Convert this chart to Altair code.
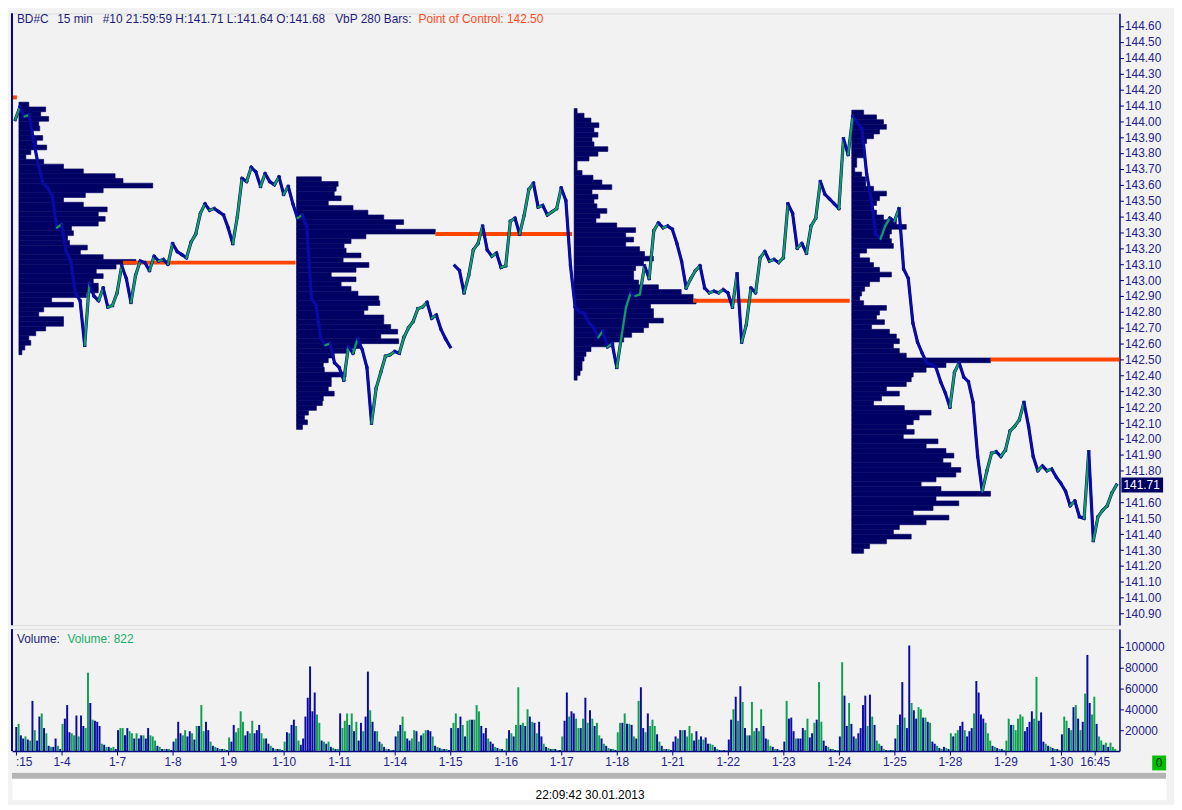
import json
import altair as alt
import pandas as pd

# ---------------- data ----------------
DAY_LABELS = ["1-3", "1-4", "1-7", "1-8", "1-9", "1-10", "1-11", "1-14", "1-15", "1-16",
              "1-17", "1-18", "1-21", "1-22", "1-23", "1-24", "1-25", "1-28", "1-29", "1-30"]

# closing prices every 2 hours (1/12 trading day), first bar at 1-3 04:00
PRICE_START = 2 / 12
PRICE_STEP = 1 / 12
PRICE = [
    144.01, 144.09, 144.03, 144.04, 143.87, 143.72, 143.61, 143.58, 143.53, 143.33,
    143.35, 143.18, 143.12, 142.92, 142.87, 142.59, 142.98, 142.90, 142.87, 142.95,
    142.83, 142.84, 142.92, 143.09, 143.01, 142.86, 143.03, 143.12, 143.11, 143.06,
    143.15, 143.12, 143.13, 143.10, 143.23, 143.18, 143.16, 143.14, 143.24, 143.29,
    143.42, 143.48, 143.44, 143.45, 143.43, 143.41, 143.33, 143.23, 143.40, 143.64,
    143.62, 143.71, 143.68, 143.59, 143.67, 143.62, 143.60, 143.65, 143.54, 143.59,
    143.48, 143.39, 143.41, 143.34, 142.89, 142.84, 142.64, 142.59, 142.60, 142.48,
    142.45, 142.37, 142.58, 142.54, 142.63, 142.56, 142.45, 142.10, 142.32, 142.42,
    142.52, 142.53, 142.55, 142.54, 142.64, 142.70, 142.74, 142.82, 142.83, 142.86,
    142.76, 142.78, 142.69, 142.63, 142.58, 143.09, 143.06, 142.92, 143.03, 143.19,
    143.23, 143.34, 143.19, 143.15, 143.17, 143.08, 143.09, 143.37, 143.39, 143.29,
    143.41, 143.57, 143.61, 143.46, 143.47, 143.41, 143.43, 143.45, 143.58, 143.50,
    143.09, 142.83, 142.80, 142.79, 142.73, 142.70, 142.64, 142.68, 142.58, 142.60,
    142.45, 142.64, 142.83, 142.92, 142.90, 142.91, 143.09, 143.01, 143.31, 143.36,
    143.33, 143.34, 143.32, 143.23, 143.12, 142.95, 143.01, 143.06, 143.09, 142.95,
    142.92, 142.93, 142.92, 142.94, 142.92, 142.83, 143.04, 142.61, 142.72, 142.95,
    142.92, 143.14, 143.18, 143.12, 143.13, 143.11, 143.14, 143.48, 143.42, 143.20,
    143.23, 143.17, 143.34, 143.39, 143.62, 143.54, 143.51, 143.48, 143.45, 143.89,
    143.79, 144.03, 143.99, 143.95, 143.67, 143.51, 143.29, 143.26, 143.34, 143.39,
    143.37, 143.45, 143.07, 143.01, 142.73, 142.61, 142.54, 142.48, 142.47, 142.45,
    142.36, 142.29, 142.20, 142.42, 142.48, 142.39, 142.36, 142.23, 141.89, 141.67,
    141.80, 141.91, 141.92, 141.89, 141.93, 142.05, 142.08, 142.12, 142.23, 142.08,
    141.89, 141.80, 141.83, 141.80, 141.81, 141.76, 141.72, 141.67, 141.58, 141.61,
    141.51, 141.50, 141.92, 141.36, 141.51, 141.55, 141.58, 141.66, 141.71,
]
PRICE_BREAKS = [94]          # no connection after this bar (gap at the 1-15 open)
LAST_PRICE = 141.71

# hourly volume (thousands) per day, with bar direction (G = up, B = down)
VOLUMES = [
    [23, 26, 15, 12, 14, 11, 10, 48, 20, 10, 33, 36, 22, 17, 5, 4, 4, 12, 5, 2],
    [26, 31, 44, 18, 17, 15, 34, 14, 34, 24, 22, 75, 46, 30, 29, 28, 24, 7, 6, 4, 4, 3, 4, 2],
    [20, 22, 22, 15, 22, 19, 17, 12, 17, 12, 15, 15, 12, 22, 15, 14, 10, 5, 4, 2, 2, 2, 2, 1],
    [9, 12, 28, 17, 15, 20, 14, 19, 17, 11, 24, 24, 44, 19, 28, 20, 9, 5, 4, 3, 2, 2, 2, 1],
    [13, 9, 25, 18, 22, 38, 28, 15, 19, 17, 29, 17, 20, 25, 17, 12, 12, 7, 5, 3, 2, 2, 2, 1],
    [9, 18, 17, 25, 30, 24, 10, 6, 12, 33, 51, 81, 38, 56, 35, 27, 10, 9, 7, 9, 4, 3, 2, 2],
    [36, 22, 29, 36, 25, 36, 19, 28, 10, 27, 19, 33, 76, 39, 28, 19, 19, 9, 7, 4, 2, 2, 1, 1],
    [14, 19, 25, 33, 19, 12, 10, 12, 20, 19, 9, 15, 17, 20, 20, 19, 14, 5, 4, 3, 2, 2, 2, 1],
    [22, 27, 36, 22, 33, 25, 14, 29, 30, 30, 30, 44, 38, 24, 17, 22, 12, 9, 7, 4, 3, 2, 2, 1],
    [12, 20, 17, 14, 25, 61, 25, 27, 24, 40, 33, 28, 27, 17, 28, 14, 7, 4, 3, 2, 2, 2, 1, 1],
    [14, 29, 56, 33, 38, 36, 31, 22, 22, 31, 51, 27, 39, 31, 24, 27, 15, 12, 7, 5, 3, 2, 2, 1],
    [18, 27, 27, 36, 26, 26, 25, 14, 12, 48, 61, 22, 18, 36, 24, 30, 24, 16, 9, 5, 2, 2, 2, 1],
    [9, 14, 12, 20, 20, 20, 14, 24, 17, 10, 19, 11, 14, 11, 13, 7, 7, 6, 4, 2, 1, 1, 1, 1],
    [11, 30, 40, 52, 29, 62, 47, 22, 15, 15, 47, 19, 22, 19, 40, 24, 12, 11, 5, 4, 2, 2, 1, 1],
    [9, 48, 31, 32, 19, 12, 12, 12, 22, 20, 31, 13, 17, 27, 30, 66, 28, 10, 5, 4, 2, 2, 1, 1],
    [14, 85, 53, 24, 46, 26, 14, 12, 17, 22, 44, 53, 24, 54, 33, 25, 10, 7, 5, 2, 1, 1, 1, 1],
    [12, 25, 35, 66, 32, 22, 101, 46, 39, 31, 42, 40, 32, 32, 28, 27, 9, 7, 5, 3, 2, 4, 3, 2],
    [17, 14, 17, 20, 24, 28, 20, 14, 19, 22, 36, 67, 56, 35, 31, 27, 17, 10, 5, 4, 3, 2, 2, 1],
    [10, 31, 25, 25, 20, 31, 35, 33, 19, 23, 28, 38, 31, 71, 29, 37, 9, 7, 5, 4, 3, 2, 2, 1],
    [16, 33, 29, 22, 20, 42, 44, 31, 20, 28, 55, 92, 46, 35, 52, 26, 14, 10, 6, 8, 4, 8, 4, 2],
]
VOL_DIRS = [
    "BGBBGBGBGBBGBGBGBBGB",
    "GBBBGGBGBBGGBGBBBGBGBGGB",
    "BGGBBGGBGBBGBBGGGBGBGBGB",
    "BGBBGGBBGBGBGGBBGBGBGBGB",
    "GBBGGGGBBGGBBBGGBBGBGBGB",
    "GBGBBGGBBBBBBBGGBGBGBGBG",
    "BGGGBGBGBBGBBGBBGBGBGBGB",
    "BGBGGBBGGBGBGGBBGBGBGBGB",
    "BGGBBGBGGBGGGBBBGBBGBGBG",
    "GBGBGGBGBGBGBGBBGBGBGBGB",
    "GBBGBBGGBGBGBGBGGBGBGBGB",
    "GGBGBGBGBGBBGBGGGBGBGBGB",
    "BBGBGBGGGBBGBGBBGGBGBGBG",
    "BBGBGBGBGBGGBGGBBGGBGBGB",
    "BGBBBGBBBGGBBGBGGBBGBGBG",
    "BGBBGBBGBBBBGBGBGGBGBGBG",
    "BGBBGBBGBBGGBGBGBBGBGBGB",
    "GBGGBBGBBBGBBBBGGGBGBGBG",
    "GGBGGGGGBBBBGGBBBGBGBGBG",
    "BGGBGBGBGBGBBGGBGGBGBGGG",
]

# volume-by-price profiles (280 bars each), 0.03 price bins from the top
PROFILE_BIN = 0.03
PROFILE_STARTS = [0.232, 5.232, 10.232, 15.232]
PROFILE_TOPS = [144.12, 143.65, 144.08, 144.07]
PROFILE_1 = [10, 27, 22, 30, 20, 21, 13, 24, 18, 28, 12, 7, 25, 45, 65, 97, 105, 135, 85, 67,
             45, 65, 89, 80, 87, 80, 53, 55, 49, 51, 69, 62, 85, 118, 98, 78, 85, 75, 80, 80,
             68, 33, 55, 25, 20, 45, 45, 27, 17, 10, 12, 6, 3]
PROFILE_2 = [25, 42, 40, 38, 45, 32, 57, 72, 88, 108, 100, 140, 70, 55, 48, 50, 65, 47, 73, 60,
             35, 60, 45, 55, 62, 83, 84, 72, 68, 88, 88, 95, 102, 85, 103, 65, 50, 38, 32, 27,
             28, 50, 35, 35, 32, 38, 27, 26, 20, 12, 8, 11, 6]
PROFILE_3 = [3, 10, 17, 25, 20, 24, 18, 20, 34, 24, 15, 3, 3, 8, 19, 28, 38, 18, 24, 20,
             23, 33, 26, 22, 43, 62, 52, 60, 52, 66, 71, 80, 70, 62, 60, 60, 65, 85, 108, 120,
             123, 77, 80, 80, 90, 75, 70, 58, 50, 40, 17, 12, 10, 8, 8, 6, 3]
PROFILE_4 = [12, 25, 32, 35, 28, 22, 15, 12, 12, 13, 5, 5, 3, 10, 14, 14, 22, 35, 28, 25,
             20, 25, 32, 45, 55, 40, 38, 40, 42, 15, 8, 18, 22, 28, 40, 28, 18, 13, 10, 8,
             12, 35, 28, 25, 33, 20, 38, 45, 48, 42, 48, 55, 140, 95, 75, 62, 60, 55, 35, 48,
             30, 22, 53, 80, 68, 62, 55, 63, 52, 87, 75, 95, 103, 92, 100, 110, 105, 85, 70, 90,
             140, 85, 108, 82, 62, 98, 75, 48, 42, 60, 35, 18, 12]
PROFILES = [PROFILE_1, PROFILE_2, PROFILE_3, PROFILE_4]
PROFILE_UNITS_PER_DAY = 56.0

# points of control
POC_PRICE = [144.15, 143.11, 143.29, 142.87, 142.50]
POC_FROM = [0.107, 2.107, 7.732, 12.375, 17.732]
POC_TO = [0.196, 5.214, 10.196, 15.196, 20.054]

PRICE_TICKS = [round(140.9 + 0.1 * i, 2) for i in range(38)]
PRICE_TICKS = [v for v in PRICE_TICKS if abs(v - 141.70) > 1e-6]
VOLUME_TICKS = [20000, 40000, 60000, 80000, 100000]
X_TICKS = [0.17] + list(range(1, 20)) + [19.607]
X_DOMAIN = [0.107, 20.054]
PRICE_DOMAIN = [140.828, 144.679]
VOLUME_DOMAIN = [0, 116700]

TITLE_PARTS = ["BD#C", "15 min", "#10 21:59:59 H:141.71 L:141.64 O:141.68", "VbP 280 Bars:"]
TITLE_X = [5, 45.6, 91.5, 326]
POC_TEXT = "Point of Control: 142.50"
VOLUME_TEXT = ["Volume:", "Volume: 822"]
STAMP = "22:09:42 30.01.2013"

# ---------------- styles ----------------
W = 1117
H_PRICE = 617
H_VOL = 123
TOTAL_W = 1164
FONT = "Liberation Sans"
NAVY = "#000064"
BLUE = "#0A0AA5"
GREEN = "#0FA050"
ORANGE = "#FF4500"
TXT = "#22228A"
AXC = "#000080"
BG = "#F2F2F2"
FRAME = "#B4B4B4"

# ---------------- frames ----------------
seg = []
for j in range(len(PRICE) - 1):
    if j in PRICE_BREAKS:
        continue
    t = PRICE_START + j * PRICE_STEP
    seg.append(dict(t=t, t2=t + PRICE_STEP, p=PRICE[j], p2=PRICE[j + 1],
                    dir="up" if PRICE[j + 1] >= PRICE[j] else "down"))
seg = pd.DataFrame(seg)

prof = []
for start, top, vols in zip(PROFILE_STARTS, PROFILE_TOPS, PROFILES):
    for i, v in enumerate(vols):
        prof.append(dict(t=start, t2=start + v / PROFILE_UNITS_PER_DAY,
                         p=top - i * PROFILE_BIN, p2=top - (i + 1) * PROFILE_BIN))
prof = pd.DataFrame(prof)

poc = pd.DataFrame(dict(t=POC_FROM, t2=POC_TO, p=POC_PRICE))

vol = []
for di, (vols, dirs) in enumerate(zip(VOLUMES, VOL_DIRS)):
    h0 = 24 - len(vols)
    for i, (v, d) in enumerate(zip(vols, dirs)):
        t = di + (h0 + i) / 24
        vol.append(dict(t=t, t2=t + 0.85 / 24, v=v * 1000, v0=0,
                        dir="up" if d == "G" else "down"))
vol = pd.DataFrame(vol)

one = pd.DataFrame({"a": [0]})


def label(txt, x, y, color, align="left"):
    return alt.Chart(pd.DataFrame({"txt": [txt]})).mark_text(
        color=color, font=FONT, fontSize=12, align=align, baseline="middle").encode(
        x=alt.value(x), y=alt.value(y), text="txt:N")


# ---------------- encodings ----------------
xs = alt.Scale(domain=X_DOMAIN, nice=False, zero=False)
X_P = alt.X("t:Q", scale=xs, axis=None)
price_axis = alt.Axis(orient="right", values=PRICE_TICKS, format=".2f", title=None, grid=False,
                      labelColor=TXT, labelFont=FONT, labelFontSize=12, tickColor=AXC, tickSize=4,
                      domainColor=AXC, domainWidth=1.5, labelPadding=1, labelOverlap=False,
                      labelFlush=False)
Y_P = alt.Y("p:Q", scale=alt.Scale(domain=PRICE_DOMAIN, nice=False, zero=False), axis=price_axis)
dir_color = alt.Color("dir:N", scale=alt.Scale(domain=["up", "down"], range=[GREEN, BLUE]), legend=None)

profiles = alt.Chart(prof).mark_rect(color=NAVY, stroke=NAVY, strokeWidth=0.6).encode(
    x=X_P, x2="t2:Q", y=Y_P, y2="p2:Q")
pocs = alt.Chart(poc).mark_rule(color=ORANGE, strokeWidth=4, strokeCap="butt").encode(
    x=X_P, x2="t2:Q", y=Y_P)
under = alt.Chart(seg).mark_rule(strokeWidth=3.2, strokeCap="square", color=BLUE).encode(
    x=X_P, x2="t2:Q", y=Y_P, y2="p2:Q")
segs = alt.Chart(seg).mark_rule(strokeWidth=2.2, strokeCap="round").encode(
    x=X_P, x2="t2:Q", y=Y_P, y2="p2:Q", color=dir_color)
last_df = pd.DataFrame({"p": [LAST_PRICE], "txt": [f"{LAST_PRICE:.2f}"]})
last_box = alt.Chart(last_df).mark_rule(color=NAVY, strokeWidth=15, strokeCap="butt").encode(
    x=alt.value(W + 2), x2=alt.value(W + 44), y=Y_P)
last_txt = alt.Chart(last_df).mark_text(color="white", font=FONT, fontSize=12, align="left",
                                        baseline="middle").encode(
    x=alt.value(W + 4), y=Y_P, text="txt:N")
titles = [label(s, xp, 5.3, "#1E1E7A") for s, xp in zip(TITLE_PARTS, TITLE_X)]
poc_title = label(POC_TEXT, 410, 5.3, "#FF4A1A")
left_line_p = alt.Chart(one).mark_rule(color=AXC, strokeWidth=2).encode(
    x=alt.value(0), y=alt.value(0), y2=alt.value(H_PRICE))

price_panel = alt.layer(profiles, pocs, under, segs, last_box, last_txt, *titles, poc_title,
                        left_line_p).properties(width=W, height=H_PRICE)

# volume panel
label_expr = ("datum.value < 0.5 ? ':15' : (datum.value > 19.5 ? '16:45' : "
              + json.dumps(DAY_LABELS) + "[round(datum.value)])")
x_axis = alt.Axis(values=X_TICKS, labelExpr=label_expr, title=None, grid=False, tickSize=4,
                  labelPadding=2, labelColor=TXT, labelFont=FONT, labelFontSize=12,
                  tickColor=AXC, domainColor=AXC, domainWidth=1.5, labelFlush=5,
                  labelOverlap=False)
X_V = alt.X("t:Q", scale=xs, axis=x_axis)
vol_axis = alt.Axis(orient="right", values=VOLUME_TICKS, format="d", title=None, grid=False,
                    labelColor=TXT, labelFont=FONT, labelFontSize=12, tickColor=AXC, tickSize=4,
                    domainColor=AXC, domainWidth=1.5, labelPadding=1, labelOverlap=False,
                    labelFlush=False)
Y_V = alt.Y("v:Q", scale=alt.Scale(domain=VOLUME_DOMAIN, nice=False, zero=False), axis=vol_axis)
bars = alt.Chart(vol).mark_rect().encode(x=X_V, x2="t2:Q", y=Y_V, y2="v0:Q", color=dir_color)
vt1 = label(VOLUME_TEXT[0], 5, 10, "#1E1E7A")
vt2 = label(VOLUME_TEXT[1], 56, 10, "#1AAE6A")
left_line_v = alt.Chart(one).mark_rule(color=AXC, strokeWidth=2).encode(
    x=alt.value(0), y=alt.value(0), y2=alt.value(H_VOL))
zero_box = alt.Chart(one).mark_rule(color="#00C000", strokeWidth=15, strokeCap="butt").encode(
    x=alt.value(W + 33), x2=alt.value(W + 47), y=alt.value(135))
zero_txt = label("0", W + 40, 135, "#002A00", align="center")
vol_panel = alt.layer(bars, vt1, vt2, left_line_v, zero_box, zero_txt).properties(
    width=W, height=H_VOL)

# footer
strip = alt.Chart(one).mark_rule(color=FRAME, strokeWidth=6, strokeCap="butt").encode(
    x=alt.value(0), x2=alt.value(TOTAL_W), y=alt.value(4))
stamp = label(STAMP, 583, 23, "black", align="center")
footer = alt.layer(strip, stamp).properties(
    width=TOTAL_W, height=28, view=alt.ViewBackground(fill="white", stroke="transparent"))

chart = alt.vconcat(price_panel, vol_panel, footer, spacing=0).properties(
    background=BG, padding=0).configure_view(stroke="transparent", strokeWidth=0).configure(font=FONT)

chart.save("out.html", embed_options={"renderer": "svg", "actions": False})
